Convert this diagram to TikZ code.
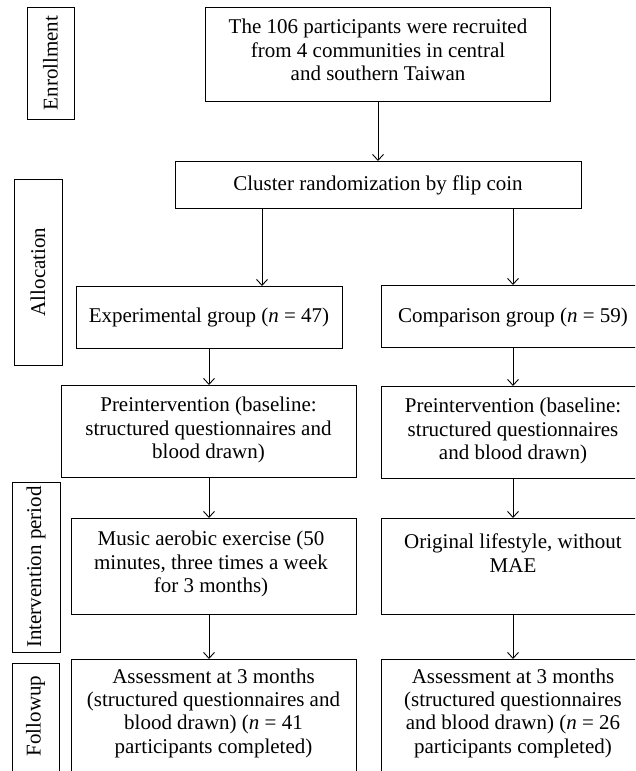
\documentclass[tikz,border=0pt]{standalone}
\usepackage{fontspec}
\setmainfont{Liberation Serif}
\usetikzlibrary{arrows.meta}
\newcommand\fs{\fontsize{21}{23.3}\selectfont}
\tikzset{
  box/.style={draw, line width=0.9pt, inner sep=0pt, outer sep=0pt, anchor=north west},
  txt/.style={align=center, inner sep=0pt, font=\fs},
  side/.style={rotate=90, inner sep=0pt, font=\fs},
  arr/.style={-{Straight Barb[length=6pt,width=11pt]}, line width=0.9pt}
}
\begin{document}
\begin{tikzpicture}[x=1pt,y=-1pt]
\clip (0,0) rectangle (635,771);
\fill[white] (0,0) rectangle (635,771);
% boxes
\node[box, minimum width=47, minimum height=112] (enr) at (27,7) {};
\node[box, minimum width=345, minimum height=94] (top) at (205,7) {};
\node[box, minimum width=406, minimum height=47] (clus) at (175,161) {};
\node[box, minimum width=48, minimum height=186] (alloc) at (14,179) {};
\node[box, minimum width=266, minimum height=62] (exp) at (76,286) {};
\node[box, minimum width=264, minimum height=62] (comp) at (381,285) {};
\node[box, minimum width=295, minimum height=92] (preL) at (61,385) {};
\node[box, minimum width=264, minimum height=92] (preR) at (381,386) {};
\node[box, minimum width=285, minimum height=96] (mus) at (71,518) {};
\node[box, minimum width=264, minimum height=96] (orig) at (381,518) {};
\node[box, minimum width=48, minimum height=170] (interv) at (12,482) {};
\node[box, minimum width=285, minimum height=130] (assL) at (71,659) {};
\node[box, minimum width=264, minimum height=130] (assR) at (381,659) {};
\node[box, minimum width=47, minimum height=125] (fol) at (12,663) {};
% texts
\node[side] (enrT) at (50.5,63) {Enrollment};
\node[side] (allocT) at (38,272) {Allocation};
\node[side] (intervT) at (36,567) {Intervention period};
\node[side] (folT) at (35.5,716) {Followup};
\node[txt] (topT) at (378,50) {The 106 participants were recruited\\from 4 communities in central\\and southern Taiwan};
\node[txt] (clusT) at (378,185) {Cluster randomization by flip coin};
\node[txt] (expT) at (209,317) {Experimental group (\textit{n} = 47)};
\node[txt] (compT) at (513,317) {Comparison group (\textit{n} = 59)};
\node[txt] (preLT) at (208.5,430) {Preintervention (baseline:\\structured questionnaires and\\blood drawn)};
\node[txt] (preRT) at (513,431) {Preintervention (baseline:\\structured questionnaires\\and blood drawn)};
\node[txt] (musT) at (211,564) {Music aerobic exercise (50\\minutes, three times a week\\for 3 months)};
\node[txt] (origT) at (513,553) {Original lifestyle, without\\MAE};
\node[txt] (assLT) at (213.5,713) {Assessment at 3 months\\(structured questionnaires and\\blood drawn) (\textit{n} = 41\\participants completed)};
\node[txt] (assRT) at (513,713) {Assessment at 3 months\\(structured questionnaires\\and blood drawn) (\textit{n} = 26\\participants completed)};
% connector columns
\coordinate (lx) at (262,0);
\coordinate (cx) at (209,0);
\coordinate (rx) at (513,0);
% arrows
\draw[arr] (top.south -| topT) -- (clus.north -| topT);
\draw[arr] (clus.south -| lx) -- (exp.north -| lx);
\draw[arr] (clus.south -| rx) -- (comp.north -| rx);
\draw[arr] (exp.south -| cx) -- (preL.north -| cx);
\draw[arr] (comp.south -| rx) -- (preR.north -| rx);
\draw[arr] (preL.south -| cx) -- (mus.north -| cx);
\draw[arr] (preR.south -| rx) -- (orig.north -| rx);
\draw[arr] (mus.south -| cx) -- (assL.north -| cx);
\draw[arr] (orig.south -| rx) -- (assR.north -| rx);
\end{tikzpicture}
\end{document}
